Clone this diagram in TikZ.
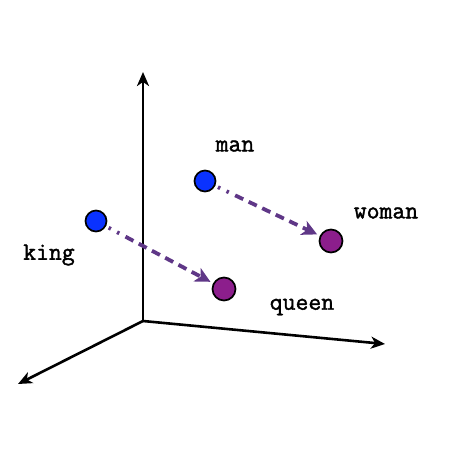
\documentclass[tikz,border=0pt]{standalone}
\usepackage{fontspec}
\newfontfamily\wordfont[FakeBold=1.6]{Latin Modern Mono}
\usetikzlibrary{arrows.meta}
\definecolor{ptblue}{RGB}{10,50,255}
\definecolor{ptpurple}{RGB}{140,30,140}
\definecolor{arrowpurple}{RGB}{95,55,135}
\tikzset{
  axis/.style={line width=2.6pt, -{Stealth[length=14pt,width=12pt,inset=4pt]}},
  blue pt/.style={circle, draw=black, line width=1.7pt, fill=ptblue, minimum size=21pt, inner sep=0pt},
  purple pt/.style={circle, draw=black, line width=1.7pt, fill=ptpurple, minimum size=23pt, inner sep=0pt},
  relation/.style={draw=arrowpurple, line width=3.8pt,
    dash pattern=on 2.5pt off 7pt on 2.5pt off 7pt on 9pt off 6pt on 9pt off 6pt on 9pt off 6pt on 9pt off 6pt on 9pt off 6pt on 9pt off 6pt on 9pt off 6pt on 9pt off 6pt on 9pt off 6pt on 9pt off 6pt,
    -{Stealth[length=15pt,width=15pt,inset=4pt,fill=arrowpurple]}, shorten >=3pt, shorten <=3pt},
  word/.style={font=\wordfont\fontsize{25}{25}\selectfont, inner sep=0pt}
}
\begin{document}
\begin{tikzpicture}[x=1pt,y=-1pt]
\useasboundingbox (0,0) rectangle (450,450);
\coordinate (o) at (143,321);
\coordinate (up) at (143,72);
\coordinate (right) at (385,344);
\coordinate (left) at (18,384);
\draw[axis] (o) -- (up);
\draw[axis] (o) -- (right);
\draw[axis] (o) -- (left);
\node[blue pt] (king) at (96,221) {};
\node[blue pt] (man) at (205,181) {};
\node[purple pt] (queen) at (224,289) {};
\node[purple pt] (woman) at (331,241) {};
\draw[relation] (king) -- (queen);
\draw[relation] (man) -- (woman);
\node[word] (kinglabel) at (49,255) {king};
\node[word] (manlabel) at (235,146) {man};
\node[word] (womanlabel) at (386,213) {woman};
\node[word] (queenlabel) at (302,307) {queen};
\end{tikzpicture}
\end{document}
